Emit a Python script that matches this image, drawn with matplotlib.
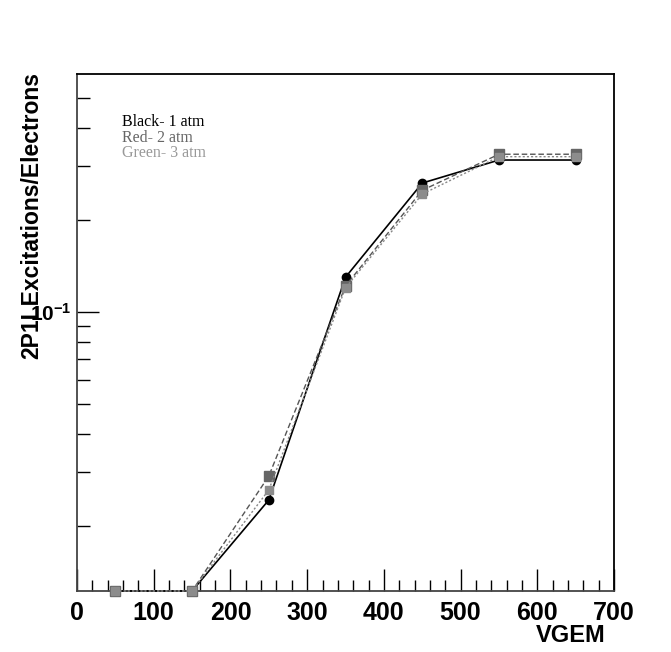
import numpy as np
import matplotlib
matplotlib.use("Agg")
import matplotlib.pyplot as plt
from matplotlib.ticker import FixedLocator, MultipleLocator, NullFormatter, FixedFormatter

plt.rcParams['font.family'] = ['Liberation Sans', 'DejaVu Sans']
plt.rcParams['mathtext.fontset'] = 'custom'
plt.rcParams['mathtext.bf'] = 'Liberation Sans:bold'
plt.rcParams['mathtext.rm'] = 'Liberation Sans:bold'

# gas gain scan, three pressures (0 = nothing measured, drawn at the axis floor)
vgem = [50, 150, 250, 350, 450, 550, 650]
black_1atm = [0, 0, 0.0243, 0.130, 0.264, 0.314, 0.314]
red_2atm = [0, 0, 0.0291, 0.1217, 0.250, 0.328, 0.328]
green_3atm = [0, 0, 0.0262, 0.120, 0.243, 0.322, 0.322]

legend_lines = ["Black- 1 atm", "Red- 2 atm", "Green- 3 atm"]
legend_colors = ["#000000", "#666666", "#999999"]

YMIN, YMAX = 0.01225, 0.6
W, H = 671, 652

fig = plt.figure(figsize=(W / 100, H / 100), dpi=100)
ax = fig.add_axes([0.1148, 0.0936, 0.8003, 0.7929])

def floor(vals):
    return np.maximum(np.array(vals, dtype=float), YMIN)

ax.plot(vgem, floor(black_1atm), color='black', lw=1.2, ls='-',
        marker='o', ms=6, mfc='black', mec='black', clip_on=False, zorder=3)
ax.plot(vgem, floor(red_2atm), color='#555555', lw=1.0, ls=(0, (4, 2)),
        marker='s', ms=6.5, mfc='#666666', mec='#666666', clip_on=False, zorder=4)
ax.plot(vgem, floor(green_3atm), color='#888888', lw=1.0, ls=(0, (1.5, 1.5)),
        marker='s', ms=6, mfc='#8c8c8c', mec='#8c8c8c', clip_on=False, zorder=5)

ax.set_yscale('log')
ax.set_xlim(0, 700)
ax.set_ylim(YMIN, YMAX)

# ROOT-like ticks: inside, only bottom/left
ax.xaxis.set_major_locator(MultipleLocator(100))
ax.xaxis.set_minor_locator(MultipleLocator(20))
ax.yaxis.set_major_locator(FixedLocator([0.1]))
ax.yaxis.set_major_formatter(FixedFormatter([r'$\mathbf{10^{-1}}$']))
minors = [m * 0.01 for m in range(2, 10)] + [m * 0.1 for m in range(2, 6)]
ax.yaxis.set_minor_locator(FixedLocator(minors))
ax.yaxis.set_minor_formatter(NullFormatter())

ax.tick_params(axis='both', which='both', direction='in', top=False, right=False)
ax.tick_params(axis='x', which='major', length=16, width=1.0, pad=7, labelsize=18)
ax.tick_params(axis='x', which='minor', length=8, width=1.0)
ax.tick_params(axis='y', which='major', length=16, width=1.0, pad=4, labelsize=15)
ax.tick_params(axis='y', which='minor', length=9, width=1.0)
for lab in ax.get_xticklabels():
    lab.set_fontweight('bold')

for side in ['left', 'bottom']:
    ax.spines[side].set_color('#444444')
    ax.spines[side].set_linewidth(1.3)
for side in ['top', 'right']:
    ax.spines[side].set_color('black')
    ax.spines[side].set_linewidth(1.3)

ax.set_xlabel("VGEM", loc='right', fontsize=17, fontweight='bold')
ax.xaxis.set_label_coords(0.985, -0.063)
ax.set_ylabel("2P1LExcitations/Electrons", loc='top', fontsize=16.5, fontweight='bold')
ax.yaxis.set_label_coords(-0.063, 1.003)

# legend-like notes, placed in pixels from the top-left corner
for i, (txt, col) in enumerate(zip(legend_lines, legend_colors)):
    fig.text(122 / W, 1 - (122 + 15.5 * i) / H, txt, color=col, fontsize=11.5,
             family=['Liberation Serif', 'DejaVu Serif'], va='center', ha='left')

fig.savefig("out.png", dpi=100)
